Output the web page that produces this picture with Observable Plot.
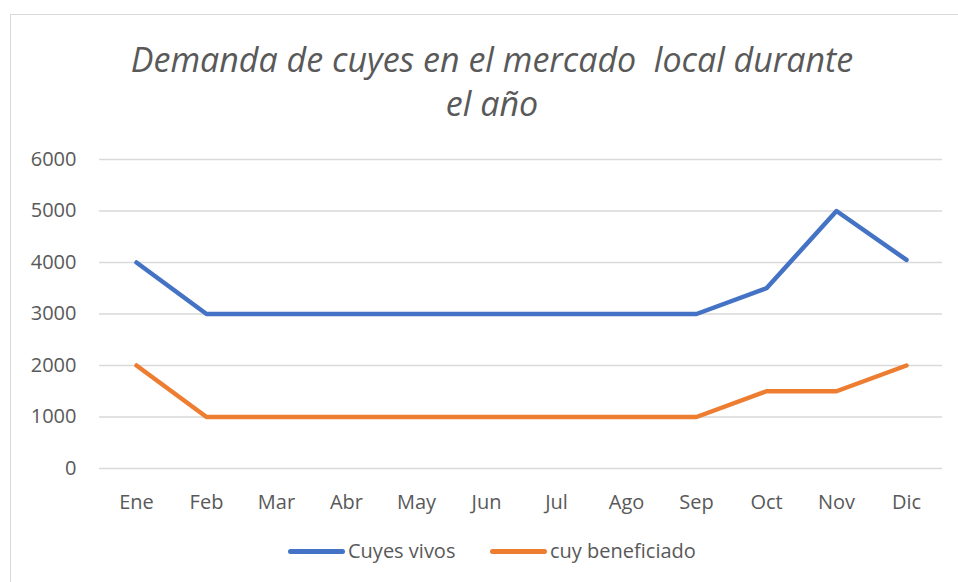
<!DOCTYPE html>
<html>
<head>
<meta charset="utf-8">
<script src="https://cdn.jsdelivr.net/npm/d3@7"></script>
<script src="https://cdn.jsdelivr.net/npm/@observablehq/plot@0.6"></script>
<style>
  html, body { margin: 0; padding: 0; background: #fff; }
  #wrap { position: relative; width: 958px; height: 582px; overflow: hidden; font-family: "Open Sans", sans-serif; color: #595959; }
  #frame { position: absolute; left: 10px; top: 14px; width: 1000px; height: 620px; border: 1.5px solid #d9d9d9; box-sizing: border-box; }
  #title { position: absolute; left: 92px; width: 800px; top: 37px; text-align: center; font-style: italic; font-size: 34px; line-height: 44px; color: #595959; }
  #chart { position: absolute; left: 0; top: 140px; }
  #legend { position: absolute; top: 536px; left: 0; width: 958px; height: 30px; }
  .sw { position: absolute; top: 13px; height: 5px; width: 57px; border-radius: 3px; }
  .lb { position: absolute; top: 0; font-size: 20px; line-height: 30px; white-space: nowrap; }
</style>
</head>
<body>
<div id="wrap">
  <div id="frame"></div>
  <div id="title">Demanda de cuyes en el mercado&nbsp; local durante<br>el año</div>
  <div id="chart"></div>
  <div id="legend"></div>
</div>
<script>
const months = ["Ene","Feb","Mar","Abr","May","Jun","Jul","Ago","Sep","Oct","Nov","Dic"];
const cuyesVivos = [4000,3000,3000,3000,3000,3000,3000,3000,3000,3500,5000,4050];
const cuyBeneficiado = [2000,1000,1000,1000,1000,1000,1000,1000,1000,1500,1500,2000];
const seriesNames = ["Cuyes vivos","cuy beneficiado"];
const seriesColors = ["#4472C4","#ED7D31"];
const yTicks = [0,1000,2000,3000,4000,5000,6000];

const rows = [];
months.forEach((m, i) => {
  rows.push({month: m, value: cuyesVivos[i], series: seriesNames[0]});
  rows.push({month: m, value: cuyBeneficiado[i], series: seriesNames[1]});
});

const plot = Plot.plot({
  width: 958,
  height: 380,
  marginLeft: 99,
  marginRight: 16,
  marginTop: 19,
  marginBottom: 52,
  style: {fontFamily: "'Open Sans', sans-serif", fontSize: "20px", color: "#595959", background: "transparent"},
  x: {type: "point", domain: months, padding: 0.5, label: null},
  y: {domain: [0, 6000], label: null},
  color: {domain: seriesNames, range: seriesColors},
  marks: [
    Plot.gridY(yTicks, {stroke: "#d9d9d9", strokeOpacity: 1, strokeWidth: 1.5}),
    Plot.axisY(yTicks, {tickSize: 0, tickPadding: 23, label: null, fill: "#595959", fontSize: 20, tickFormat: d => String(d)}),
    Plot.axisX({tickSize: 0, tickPadding: 26, label: null, fill: "#595959", fontSize: 20}),
    Plot.line(rows, {x: "month", y: "value", z: "series", stroke: "series", strokeWidth: 4.5, strokeLinecap: "round", strokeLinejoin: "round"})
  ]
});
document.getElementById("chart").appendChild(plot);

const legend = document.getElementById("legend");
const legendPos = [{sw: 288, lb: 348}, {sw: 490, lb: 550}];
seriesNames.forEach((name, i) => {
  const sw = document.createElement("div");
  sw.className = "sw";
  sw.style.left = legendPos[i].sw + "px";
  sw.style.background = seriesColors[i];
  legend.appendChild(sw);
  const lb = document.createElement("div");
  lb.className = "lb";
  lb.style.left = legendPos[i].lb + "px";
  lb.textContent = name;
  legend.appendChild(lb);
});
</script>
</body>
</html>
